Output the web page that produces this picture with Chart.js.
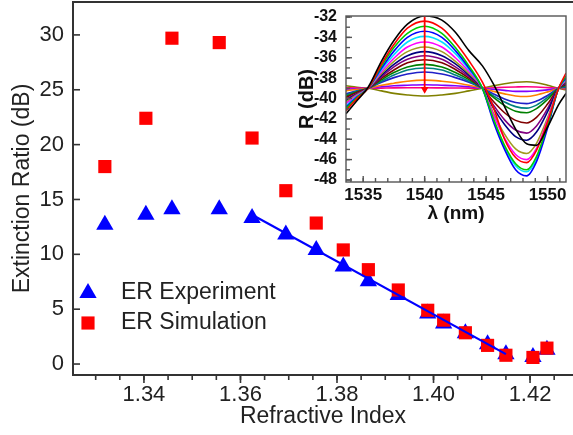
<!DOCTYPE html>
<html>
<head>
<meta charset="utf-8">
<script src="https://cdn.jsdelivr.net/npm/chart.js@4.4.0/dist/chart.umd.min.js"></script>
<style>
  html, body { margin: 0; padding: 0; background: #fff; }
  #wrap { position: relative; width: 573px; height: 435px; overflow: hidden; }
  #main { position: absolute; left: 0; top: 0; }
  #inset { position: absolute; left: 280px; top: 0; }
</style>
</head>
<body>
<div id="wrap">
  <canvas id="main" width="573" height="435"></canvas>
  <canvas id="inset" width="293" height="232"></canvas>
</div>
<script>
// main plot data
const refractiveIndex = [1.3319, 1.3404, 1.3458, 1.3556, 1.3624, 1.3694, 1.3757, 1.3813, 1.3865, 1.3927, 1.3988, 1.4021, 1.4066, 1.4112, 1.4150, 1.4206, 1.4235];
const erExperiment = [12.7, 13.6, 14.1, 14.1, 13.3, 11.8, 10.4, 8.9, 7.55, 6.3, 4.6, 3.7, 2.8, 1.8, 0.9, 0.65, 1.3];
const erSimulation = [18.0, 22.4, 29.7, 29.3, 20.6, 15.8, 12.85, 10.4, 8.6, 6.75, 4.9, 4.0, 2.85, 1.7, 0.8, 0.6, 1.45];
const fitIndex = [1.3624, 1.4150];
const fitER = [13.6, 0.9];
const riTicks = [1.34, 1.36, 1.38, 1.40, 1.42];
const erTicks = [0, 5, 10, 15, 20, 25, 30];

// inset spectra (wavelength grid + one array per curve)
const lambdaNm = [1533.6, 1534.5, 1535.4, 1536.5, 1537.5, 1538.6, 1540.0, 1541.4, 1542.5, 1543.6, 1544.7, 1545.6, 1546.5, 1547.4, 1548.3, 1549.1, 1550.0, 1550.9, 1551.5];
const rBlack     = [-41.5, -40.2, -38.9, -36.3, -34.3, -32.7, -31.9, -32.3, -33.5, -35.3, -36.8, -38.6, -40.8, -43.0, -44.45, -44.6, -42.8, -40.6, -39.5];
const rRed       = [-41.2, -40.0, -39.0, -36.6, -34.7, -33.1, -32.4, -33.1, -34.5, -36.3, -38.4, -40.9, -44.0, -45.8, -46.3, -45.1, -42.3, -39.0, -37.5];
const rGreen     = [-41.0, -39.9, -39.0, -36.8, -35.0, -33.6, -32.9, -33.6, -35.0, -36.8, -39.0, -42.0, -44.6, -46.4, -47.0, -45.7, -42.6, -39.0, -37.8];
const rBlue      = [-40.85, -39.85, -39.0, -37.0, -35.35, -34.0, -33.4, -34.0, -35.3, -37.0, -39.0, -42.3, -45.0, -47.0, -47.6, -46.2, -42.9, -39.0, -38.0];
const rCyan      = [-40.7, -39.8, -39.0, -37.15, -35.7, -34.45, -33.9, -34.45, -35.6, -37.15, -39.0, -42.1, -44.75, -46.6, -47.2, -45.9, -42.7, -39.0, -38.1];
const rMagenta   = [-40.5, -39.7, -39.0, -37.35, -36.05, -34.95, -34.45, -34.95, -36.0, -37.35, -39.0, -41.65, -43.9, -45.5, -46.0, -44.9, -42.15, -39.0, -38.2];
const rOlive     = [-40.35, -39.6, -39.0, -37.55, -36.35, -35.4, -34.95, -35.4, -36.35, -37.55, -39.0, -41.45, -43.5, -44.95, -45.4, -44.4, -41.9, -39.0, -38.3];
const rNavy      = [-40.2, -39.55, -39.0, -37.7, -36.65, -35.8, -35.4, -35.8, -36.6, -37.7, -39.0, -40.95, -42.55, -43.75, -44.1, -43.3, -41.3, -39.0, -38.4];
const rPurple    = [-40.05, -39.5, -39.0, -37.85, -36.9, -36.15, -35.8, -36.15, -36.9, -37.85, -39.0, -40.65, -42.1, -43.1, -43.4, -42.7, -41.0, -39.0, -38.5];
const rBrown     = [-39.9, -39.4, -39.0, -38.0, -37.2, -36.5, -36.2, -36.5, -37.15, -38.0, -39.0, -40.3, -41.4, -42.15, -42.4, -41.85, -40.55, -39.0, -38.6];
const rDarkGreen = [-39.8, -39.35, -39.0, -38.15, -37.45, -36.9, -36.65, -36.9, -37.45, -38.15, -39.0, -39.9, -40.7, -41.25, -41.4, -41.0, -40.1, -39.0, -38.7];
const rTeal      = [-39.65, -39.3, -39.0, -38.3, -37.7, -37.2, -37.0, -37.2, -37.7, -38.3, -39.0, -39.75, -40.35, -40.8, -40.95, -40.65, -39.9, -39.0, -38.8];
const rBlue2     = [-39.55, -39.25, -39.0, -38.4, -37.95, -37.6, -37.4, -37.6, -37.95, -38.4, -39.0, -39.55, -40.05, -40.4, -40.5, -40.25, -39.7, -39.0, -38.9];
const rOrange    = [-39.25, -39.1, -39.0, -38.7, -38.5, -38.3, -38.2, -38.3, -38.45, -38.7, -39.0, -39.3, -39.55, -39.75, -39.8, -39.65, -39.35, -39.0, -38.95];
const rViolet    = [-39.1, -39.05, -39.0, -38.85, -38.75, -38.7, -38.65, -38.7, -38.75, -38.85, -39.0, -39.1, -39.2, -39.3, -39.3, -39.25, -39.15, -39.0, -38.95];
const rPink      = [-38.95, -38.97, -39.0, -38.98, -38.96, -38.95, -38.95, -38.96, -38.97, -38.98, -39.0, -38.95, -38.9, -38.87, -38.85, -38.87, -38.93, -39.0, -39.05];
const rOlive2    = [-38.75, -38.9, -39.0, -39.25, -39.5, -39.65, -39.75, -39.65, -39.5, -39.25, -39.0, -38.75, -38.55, -38.4, -38.35, -38.45, -38.7, -39.0, -39.15];
const spectra = [rBlack, rRed, rGreen, rBlue, rCyan, rMagenta, rOlive, rNavy, rPurple, rBrown, rDarkGreen, rTeal, rBlue2, rOrange, rViolet, rPink, rOlive2];
const spectraColors = ['#000000', '#ff0000', '#00cc00', '#0000ff', '#00e0ff', '#ff00ff', '#a09a20', '#000080', '#800080', '#800000', '#008000', '#008080', '#2020c8', '#ff8000', '#8000ff', '#ff0080', '#808000'];
const arrowLambda = [1540, 1540];
const arrowR = [-31.95, -39.1];
const lambdaTicks = [1535, 1540, 1545, 1550];
const rTicks = [-48, -46, -44, -42, -40, -38, -36, -34, -32];

const FONT = '"Liberation Sans", Arial, sans-serif';

// helper: evenly spaced tick positions
function steps(from, to, step) {
  const out = [];
  const n = Math.round((to - from) / step);
  for (let i = 0; i <= n; i++) out.push(+(from + i * step).toFixed(4));
  return out;
}

function toPoints(xs, ys) {
  return xs.map((x, i) => ({ x, y: ys[i] }));
}

// fixed axis sizes, no label overhang padding
function fixWidth(w) {
  return axis => { axis.width = w; axis.paddingTop = 0; axis.paddingBottom = 0; };
}
function fixHeight(h) {
  return axis => { axis.height = h; axis.paddingLeft = 0; axis.paddingRight = 0; };
}

// tick marks + frame lines
const tickMarks = {
  id: 'tickMarks',
  afterDatasetsDraw(chart, args, opts) {
    const ctx = chart.ctx;
    const area = chart.chartArea;
    ctx.save();
    ctx.strokeStyle = opts.color;
    ctx.lineWidth = opts.width;
    opts.marks.forEach(m => {
      const scale = chart.scales[m.axis];
      m.values.forEach(v => {
        const p = scale.getPixelForValue(v);
        ctx.beginPath();
        if (m.axis === 'x') {
          ctx.moveTo(p, area.bottom);
          ctx.lineTo(p, area.bottom + m.len);
        } else {
          ctx.moveTo(area.left, p);
          ctx.lineTo(area.left - m.len, p);
        }
        ctx.stroke();
      });
    });
    if (opts.box === 'all') {
      ctx.strokeRect(area.left, area.top, area.right - area.left, area.bottom - area.top);
    } else if (opts.box === 'top') {
      ctx.lineWidth = 2;
      ctx.beginPath();
      ctx.moveTo(area.left, area.top);
      ctx.lineTo(area.right, area.top);
      ctx.stroke();
    }
    ctx.restore();
  }
};

// legend drawn inside the plot
const innerLegend = {
  id: 'innerLegend',
  afterDraw(chart, args, opts) {
    const ctx = chart.ctx;
    ctx.save();
    opts.items.forEach(item => {
      ctx.fillStyle = item.color;
      ctx.strokeStyle = item.color;
      Chart.helpers.drawPoint(ctx, { pointStyle: item.style, radius: item.radius, rotation: 0, borderWidth: 0 }, opts.x, item.y);
      ctx.fillStyle = '#222';
      ctx.font = '23px ' + FONT;
      ctx.textBaseline = 'middle';
      ctx.fillText(item.text, opts.textX, item.y);
    });
    ctx.restore();
  }
};

// main chart
new Chart(document.getElementById('main'), {
  type: 'scatter',
  data: {
    datasets: [
      {
        label: 'fit',
        data: toPoints(fitIndex, fitER),
        showLine: true,
        borderColor: '#0000ff',
        borderWidth: 2.2,
        pointRadius: 0,
        order: 0
      },
      {
        label: 'ER Simulation',
        data: toPoints(refractiveIndex, erSimulation),
        pointStyle: 'rect',
        pointRadius: 9.3,
        backgroundColor: '#ff0000',
        borderWidth: 0,
        order: 1
      },
      {
        label: 'ER Experiment',
        data: toPoints(refractiveIndex, erExperiment),
        pointStyle: 'triangle',
        pointRadius: 10,
        backgroundColor: '#0000ff',
        borderWidth: 0,
        order: 2
      }
    ]
  },
  options: {
    responsive: false,
    animation: false,
    layout: { autoPadding: false, padding: { top: 2, right: 0, left: 0, bottom: 0 } },
    plugins: {
      legend: { display: false },
      tooltip: { enabled: false },
      tickMarks: {
        color: '#333',
        width: 1.6,
        box: 'top',
        marks: [
          { axis: 'x', values: riTicks, len: 8 },
          { axis: 'x', values: steps(1.33, 1.425, 0.005), len: 5 },
          { axis: 'y', values: erTicks, len: -7 }
        ]
      },
      innerLegend: {
        x: 88,
        textX: 121,
        items: [
          { text: 'ER Experiment', style: 'triangle', radius: 10, color: '#0000ff', y: 293 },
          { text: 'ER Simulation', style: 'rect', radius: 9.3, color: '#ff0000', y: 323 }
        ]
      }
    },
    scales: {
      x: {
        type: 'linear',
        min: 1.3253,
        max: 1.4289,
        afterBuildTicks: axis => { axis.ticks = riTicks.map(v => ({ value: v })); },
        afterFit: fixHeight(60),
        grid: { display: false, drawTicks: false },
        border: { display: true, color: '#333', width: 2 },
        ticks: { font: { family: FONT, size: 22 }, color: '#222', padding: 7, maxRotation: 0, autoSkip: false, callback: v => v.toFixed(2) },
        title: { display: true, text: 'Refractive Index', font: { family: FONT, size: 23 }, color: '#222', padding: { top: 0, bottom: 5 } }
      },
      y: {
        type: 'linear',
        min: -1,
        max: 33,
        afterBuildTicks: axis => { axis.ticks = erTicks.map(v => ({ value: v })); },
        afterFit: fixWidth(73),
        grid: { display: false, drawTicks: false },
        border: { display: true, color: '#333', width: 2 },
        ticks: { font: { family: FONT, size: 22 }, color: '#222', padding: 9, autoSkip: false, callback: v => String(v) },
        title: { display: true, text: 'Extinction Ratio (dB)', font: { family: FONT, size: 23 }, color: '#222', padding: { top: 9, bottom: 0 } }
      }
    }
  },
  plugins: [tickMarks, innerLegend]
});

// inset chart
const insetSets = [{
  data: toPoints(arrowLambda, arrowR),
  showLine: true,
  borderColor: '#ff0000',
  borderWidth: 1.8,
  pointRadius: [0, 4.5],
  pointStyle: 'triangle',
  rotation: 180,
  pointBackgroundColor: '#ff0000',
  pointBorderWidth: 0,
  tension: 0
}];
spectra.forEach((r, i) => {
  insetSets.push({
    data: toPoints(lambdaNm, r),
    showLine: true,
    borderColor: spectraColors[i],
    borderWidth: 1.6,
    pointRadius: 0,
    cubicInterpolationMode: 'monotone'
  });
});

new Chart(document.getElementById('inset'), {
  type: 'scatter',
  data: { datasets: insetSets },
  options: {
    responsive: false,
    animation: false,
    layout: { autoPadding: false, padding: { top: 16, right: 7, left: 0, bottom: 0 } },
    plugins: {
      legend: { display: false },
      tooltip: { enabled: false },
      tickMarks: {
        color: '#555',
        width: 1.4,
        box: 'all',
        marks: [
          { axis: 'x', values: lambdaTicks, len: -6 },
          { axis: 'x', values: steps(1534, 1551, 1), len: -4 },
          { axis: 'y', values: rTicks, len: -6 },
          { axis: 'y', values: steps(-48, -32, 1), len: -4 }
        ]
      }
    },
    scales: {
      x: {
        type: 'linear',
        min: 1533.6,
        max: 1551.5,
        afterBuildTicks: axis => { axis.ticks = lambdaTicks.map(v => ({ value: v })); },
        afterFit: fixHeight(50),
        grid: { display: false, drawTicks: false },
        border: { display: false },
        ticks: { font: { family: FONT, size: 17, weight: 'bold' }, color: '#111', padding: 3, maxRotation: 0, autoSkip: false, callback: v => String(v) },
        title: { display: true, text: 'λ (nm)', font: { family: FONT, size: 19, weight: 'bold' }, color: '#111', padding: { top: 0, bottom: 7 } }
      },
      y: {
        type: 'linear',
        min: -48.2,
        max: -31.9,
        afterBuildTicks: axis => { axis.ticks = rTicks.map(v => ({ value: v })); },
        afterFit: fixWidth(66),
        grid: { display: false, drawTicks: false },
        border: { display: false },
        ticks: { font: { family: FONT, size: 16, weight: 'bold' }, color: '#111', padding: 9, autoSkip: false, callback: v => String(v) },
        title: { display: true, text: 'R (dB)', font: { family: FONT, size: 20, weight: 'bold' }, color: '#111', padding: { top: 15, bottom: 0 } }
      }
    }
  },
  plugins: [tickMarks]
});
</script>
</body>
</html>
